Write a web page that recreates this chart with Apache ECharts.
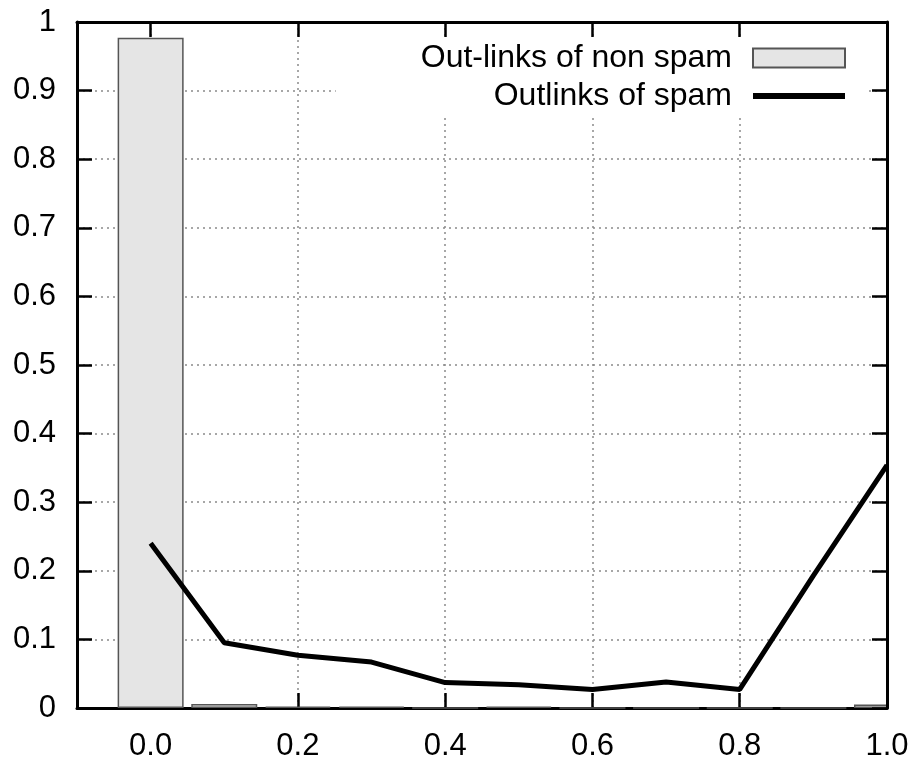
<!DOCTYPE html>
<html>
<head>
<meta charset="utf-8">
<script src="https://cdn.jsdelivr.net/npm/echarts@6/dist/echarts.min.js"></script>
<style>html,body{margin:0;padding:0;background:#fff;}#c{width:913px;height:764px;}</style>
</head>
<body>
<div id="c"></div>
<script>
// x categories (bin positions)
var xCats = ['-0.1','0.0','0.1','0.2','0.3','0.4','0.5','0.6','0.7','0.8','0.9','1.0'];
// Out-links of non spam (bars)
var nonSpam = [null, 0.977, 0.006, 0.002, 0.002, 0, 0.002, 0, 0, 0, 0, 0.005];
// Outlinks of spam (line)
var spam = [null, 0.240, 0.095, 0.077, 0.067, 0.037, 0.034, 0.027, 0.038, 0.027, 0.193, 0.354];
var yMin = 0, yMax = 1, yStep = 0.1;
var seriesNames = ['Out-links of non spam', 'Outlinks of spam'];

var FONT = '"Liberation Sans", Arial, Helvetica, sans-serif';
var even = function (idx) { return idx % 2 === 1; };
var gridLine = { show: true, lineStyle: { color: '#8a8a8a', width: 1.5, type: [2, 4] } };
var axisLine = { show: true, onZero: false, lineStyle: { color: '#000', width: 3 } };
var tick = function (intervalFn) {
  var t = { show: true, inside: true, length: 15, lineStyle: { color: '#000', width: 2.5 } };
  if (intervalFn) t.interval = intervalFn;
  return t;
};

var chart = echarts.init(document.getElementById('c'), null, { renderer: 'canvas' });
chart.setOption({
  animation: false,
  backgroundColor: '#fff',
  grid: { left: 77, right: 26, top: 22, bottom: 56, containLabel: false },
  // white mask so the half bar at 1.0 is cut at the plot border, as in the reference
  graphic: [{
    type: 'rect', z: 50, silent: true,
    shape: { x: 889, y: 640, width: 30, height: 80 },
    style: { fill: '#fff' }
  }],
  legend: {
    orient: 'vertical',
    align: 'right',
    right: 47,
    top: 39,
    padding: [3, 18, 3, 85],
    itemGap: 6,
    itemWidth: 92,
    itemHeight: 19,
    backgroundColor: '#fff',
    textStyle: { fontSize: 32, fontFamily: FONT, color: '#000', lineHeight: 32, padding: [0, 16, 0, 0] },
    data: [
      { name: seriesNames[0], icon: 'rect' },
      { name: seriesNames[1], lineStyle: { width: 6, color: '#000' },
        itemStyle: { color: 'rgba(0,0,0,0)', borderWidth: 0, opacity: 0 } }
    ]
  },
  xAxis: [
    {
      type: 'category', data: xCats, boundaryGap: false, position: 'bottom',
      axisLine: axisLine, axisTick: tick(even),
      axisLabel: { interval: even, margin: 23, fontSize: 31, fontFamily: FONT, color: '#000' },
      splitLine: Object.assign({ interval: even }, gridLine)
    },
    {
      type: 'category', data: xCats, boundaryGap: false, position: 'top', z: 3,
      axisLine: axisLine, axisTick: tick(even), axisLabel: { show: false }, splitLine: { show: false }
    }
  ],
  yAxis: [
    {
      type: 'value', min: yMin, max: yMax, interval: yStep, position: 'left',
      axisLine: axisLine, axisTick: tick(),
      axisLabel: {
        margin: 21, fontSize: 31, fontFamily: FONT, color: '#000',
        formatter: function (v) { return (v === 0 || v === 1) ? String(v) : v.toFixed(1); }
      },
      splitLine: gridLine
    },
    {
      type: 'value', min: yMin, max: yMax, interval: yStep, position: 'right', z: 3,
      axisLine: axisLine, axisTick: tick(), axisLabel: { show: false }, splitLine: { show: false }
    }
  ],
  series: [
    {
      name: seriesNames[0], type: 'bar', xAxisIndex: 0, yAxisIndex: 0,
      data: nonSpam, barWidth: 66, clip: true,
      itemStyle: { color: '#e5e5e5', borderColor: '#555', borderWidth: 1.5 }
    },
    {
      name: seriesNames[1], type: 'line', xAxisIndex: 0, yAxisIndex: 0,
      data: spam, symbol: 'none', z: 3, clip: true,
      lineStyle: { color: '#000', width: 5 },
      itemStyle: { color: '#000' }
    }
  ]
});
</script>
</body>
</html>
